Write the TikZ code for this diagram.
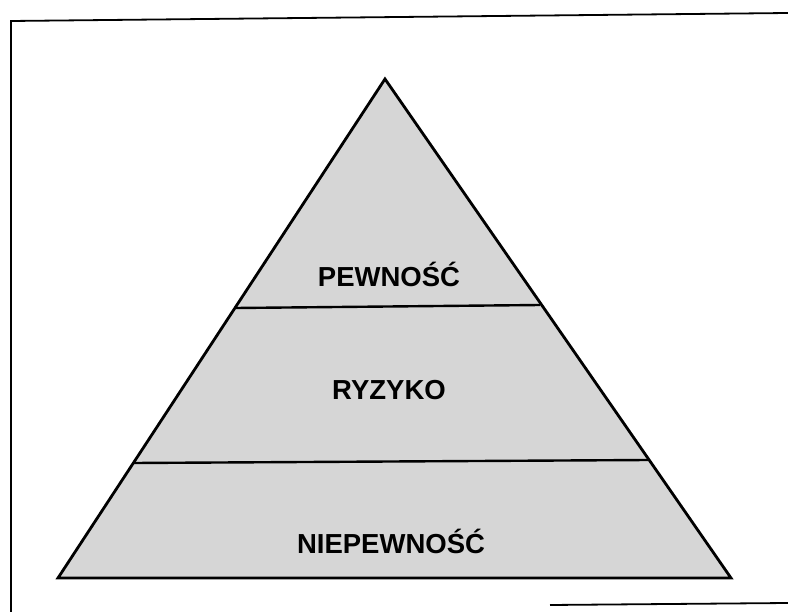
\documentclass[tikz,border=0pt]{standalone}
\usepackage{fontspec}
\setmainfont{Liberation Sans}
\begin{document}
\begin{tikzpicture}[x=1pt,y=-1pt,
  layerfill/.style={fill=black!16},
  outline/.style={draw=black,line width=2.8pt,line join=miter},
  divider/.style={draw=black,line width=2.4pt},
  frameline/.style={draw=black,line width=1.8pt},
  lbl/.style={font=\fontsize{27.5}{32}\selectfont\bfseries,inner sep=0pt}]
\useasboundingbox (0,0) rectangle (788,612);
\fill[white] (0,0) rectangle (788,612);
% frame
\draw[frameline] (11,612) -- (11,21) -- (788,13);
\draw[frameline] (550,605) -- (788,603);
% pyramid
\coordinate (apex) at (385,79);
\coordinate (bl) at (58,578);
\coordinate (br) at (731,578);
\coordinate (l1) at (236,308);
\coordinate (r1) at (540,305);
\coordinate (l2) at (134,463);
\coordinate (r2) at (648,460);
\path[layerfill] (apex) -- (bl) -- (br) -- cycle;
\draw[divider] (l1) -- (r1);
\draw[divider] (l2) -- (r2);
\draw[outline] (apex) -- (bl) -- (br) -- cycle;
% labels
\node[lbl] (top) at (389,274) {PEWNOŚĆ};
\node[lbl] (mid) at (389,390) {RYZYKO};
\node[lbl] (bot) at (391,541) {NIEPEWNOŚĆ};
\end{tikzpicture}
\end{document}
